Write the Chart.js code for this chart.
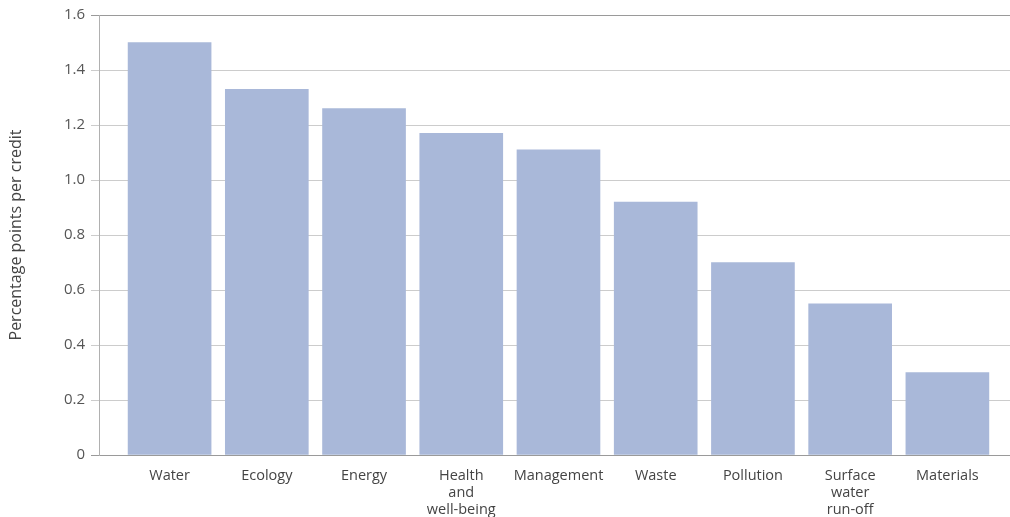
<!DOCTYPE html>
<html>
<head>
<meta charset="utf-8">
<script src="https://cdn.jsdelivr.net/npm/chart.js@4/dist/chart.umd.min.js"></script>
<style>
    html, body { margin: 0; padding: 0; background: #fff; }
    #wrap { width: 1010px; height: 517px; position: relative; }
</style>
</head>
<body>
<div id="wrap"><canvas id="myChart"></canvas></div>
<script>
const categories = [
    ['Water'], ['Ecology'], ['Energy'], ['Health', 'and', 'well-being'], ['Management'],
    ['Waste'], ['Pollution'], ['Surface', 'water', 'run-off'], ['Materials']
];
const pointsPerCredit = [1.5, 1.33, 1.26, 1.17, 1.11, 0.92, 0.7, 0.55, 0.3];
const yTicks = [0, 0.2, 0.4, 0.6, 0.8, 1.0, 1.2, 1.4, 1.6];

const fontFamily = "'Open Sans', 'Noto Sans', sans-serif";

function getDataSet() {
    // linear x so the bars can sit inset from the y axis like the original
    const points = pointsPerCredit.map((v, i) => ({ x: i, y: v }));
    return [{
        label: 'Percentage points per credit',
        data: points,
        backgroundColor: '#a9b8d9',
        borderWidth: 0,
        barThickness: 83,
    }];
}

const barChartOptions = {
    responsive: true,
    maintainAspectRatio: false,
    animation: false,
    layout: {
        padding: { left: 0, right: 0, top: 15, bottom: 0 }
    },
    plugins: {
        legend: { display: false },
        tooltip: { enabled: false },
    },
    scales: {
        x: {
            type: 'linear',
            offset: false,
            min: -0.726,
            max: 8.644,
            afterBuildTicks: (scale) => {
                scale.ticks = categories.map((c, i) => ({ value: i }));
            },
            afterFit: (scale) => { scale.height = 62; },
            ticks: {
                autoSkip: false,
                maxRotation: 0,
                padding: 12,
                color: '#444',
                font: { family: fontFamily, size: 14.5, lineHeight: 1.17 },
                callback: (val) => categories[val],
            },
            grid: { display: false, drawTicks: false },
            border: { display: false },
        },
        y: {
            min: 0,
            max: 1.6,
            afterBuildTicks: (scale) => {
                scale.ticks = yTicks.map(v => ({ value: v }));
            },
            afterFit: (scale) => { scale.width = 99; },
            ticks: {
                padding: 6,
                color: '#555',
                font: { family: fontFamily, size: 15 },
                callback: (val) => val === 0 ? '0' : val.toFixed(1),
            },
            grid: {
                tickLength: 8,
                color: (ctx) => (ctx.tick && (ctx.tick.value === 0 || ctx.tick.value === 1.6)) ? '#9a9a9a' : '#cccccc',
                lineWidth: 1,
            },
            border: { display: true, color: '#b0b0b0', width: 1 },
            title: {
                display: true,
                text: 'Percentage points per credit',
                color: '#444',
                padding: { top: 7, bottom: 0 },
                font: { family: fontFamily, size: 16 },
            },
        },
    },
};

const ctx = document.getElementById('myChart');
const myChart = new Chart(ctx, {
    type: 'bar',
    data: { datasets: getDataSet() },
    options: barChartOptions
});
</script>
</body>
</html>
